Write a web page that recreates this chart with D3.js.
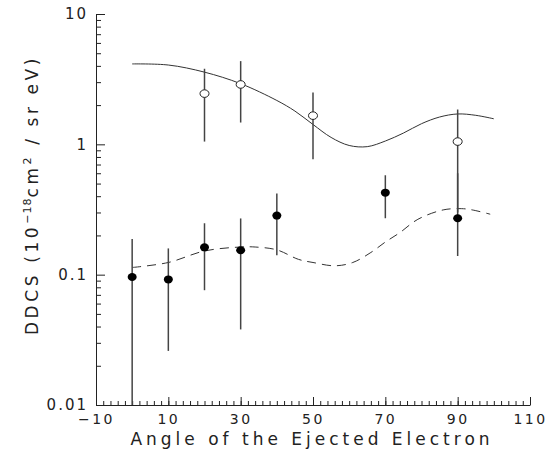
<!DOCTYPE html>
<html>
<head>
<script src="https://d3js.org/d3.v7.min.js"></script>
<style>
  body { margin: 0; background: #fff; }
  text { font-family: "DejaVu Sans", sans-serif; fill: #222; }
</style>
</head>
<body>
<svg id="main_graph" width="551" height="450"></svg>
<script>
// measured points (angle, value, bar low, bar high)
var openAngle = [20, 30, 50, 90];
var openVal   = [2.45, 2.88, 1.66, 1.05];
var openLo    = [1.05, 1.47, 0.77, 0.30];
var openHi    = [3.80, 4.35, 2.50, 1.85];

var fillAngle = [0, 10, 20, 30, 40, 70, 90];
var fillVal   = [0.096, 0.092, 0.162, 0.154, 0.284, 0.426, 0.271];
var fillLo    = [0.005, 0.026, 0.076, 0.038, 0.141, 0.271, 0.139];
var fillHi    = [0.188, 0.159, 0.248, 0.270, 0.420, 0.579, 0.60];

// theory curves
var solidAngle = [0, 10, 20, 30, 40, 45, 50, 55, 60, 65, 70, 75, 80, 85, 90, 95, 100];
var solidVal   = [4.14, 4.06, 3.58, 2.92, 2.17, 1.80, 1.42, 1.13, 0.98, 0.96, 1.06, 1.22, 1.44, 1.62, 1.71, 1.67, 1.57];

var dashAngle = [0, 10, 20, 30, 34, 40, 46, 50, 56, 61, 66, 70, 74, 79, 86, 91, 94, 99];
var dashVal   = [0.1135, 0.124, 0.152, 0.163, 0.163, 0.155, 0.131, 0.124, 0.117, 0.124, 0.148, 0.178, 0.21, 0.266, 0.314, 0.321, 0.314, 0.291];

var xMajor = [-10, 10, 30, 50, 70, 90, 110];
var yMajor = [0.01, 0.1, 1, 10];
var yLabels = ["0.01", "0.1", "1", "10"];

var svg = d3.select("svg");
var x = d3.scaleLinear().domain([-10, 110]).range([96, 530]);
var y = d3.scaleLog().domain([0.01, 10]).range([405, 14]);

// minor ticks
var xMinor = d3.range(-10, 111, 2);
var yMinor = [];
[0.01, 0.1, 1].forEach(function(d) { for (var k = 2; k < 10; k++) yMinor.push(d * k); });

svg.append("g").attr("transform", "translate(0,405)")
  .call(d3.axisBottom(x).tickValues(xMinor).tickSize(-4).tickFormat(""))
  .call(function(g) { g.select(".domain").remove(); });
svg.append("g").attr("transform", "translate(0,405)")
  .call(d3.axisBottom(x).tickValues(xMajor).tickSizeInner(-8).tickSizeOuter(0).tickPadding(9)
    .tickFormat(function(d) { return d < 0 ? "\u2212" + Math.abs(d) : d; }))
  .call(function(g) {
    g.selectAll("text").attr("font-size", 14).attr("letter-spacing", 2.5);
  });

svg.append("g").attr("transform", "translate(96,0)")
  .call(d3.axisLeft(y).tickValues(yMinor).tickSize(-5).tickFormat(""))
  .call(function(g) { g.select(".domain").remove(); });
svg.append("g").attr("transform", "translate(96,0)")
  .call(d3.axisLeft(y).tickValues(yMajor).tickSizeInner(-9).tickSizeOuter(0).tickPadding(8)
    .tickFormat(function(d, i) { return yLabels[i]; }))
  .call(function(g) {
    g.selectAll("text").attr("font-size", 15).attr("letter-spacing", 2);
  });

svg.selectAll(".domain, .tick line").attr("stroke", "#222");

// axis titles
svg.append("text").attr("x", 312).attr("y", 444.5).attr("text-anchor", "middle")
  .attr("font-size", 17).attr("letter-spacing", 4).text("Angle of the Ejected Electron");

var yt = svg.append("text").attr("transform", "translate(38,195) rotate(-90)")
  .attr("text-anchor", "middle").attr("font-size", 17).attr("letter-spacing", 3.6);
yt.append("tspan").text("DDCS (10");
yt.append("tspan").attr("dy", -7).attr("font-size", 11).attr("letter-spacing", 1).text("\u221218");
yt.append("tspan").attr("dy", 7).text("cm");
yt.append("tspan").attr("dy", -7).attr("font-size", 11).text("2");
yt.append("tspan").attr("dy", 7).text(" / sr eV)");

// curves
var line = d3.line().curve(d3.curveCatmullRom.alpha(0.5));
svg.append("path")
  .attr("d", line(solidAngle.map(function(a, i) { return [x(a), y(solidVal[i])]; })))
  .attr("fill", "none").attr("stroke", "#333").attr("stroke-width", 1);
svg.append("path")
  .attr("d", line(dashAngle.map(function(a, i) { return [x(a), y(dashVal[i])]; })))
  .attr("fill", "none").attr("stroke", "#333").attr("stroke-width", 1)
  .attr("stroke-dasharray", "9,6");

// error bars
var yc = function(v) { return Math.min(y(Math.max(v, 0.01)), 405); };
svg.selectAll(".ebo").data(openAngle).enter().append("line")
  .attr("x1", function(d) { return x(d); }).attr("x2", function(d) { return x(d); })
  .attr("y1", function(d, i) { return yc(openLo[i]); })
  .attr("y2", function(d, i) { return yc(openHi[i]); })
  .attr("stroke", "#444").attr("stroke-width", 1.5);
svg.selectAll(".ebf").data(fillAngle).enter().append("line")
  .attr("x1", function(d) { return x(d); }).attr("x2", function(d) { return x(d); })
  .attr("y1", function(d, i) { return yc(fillLo[i]); })
  .attr("y2", function(d, i) { return yc(fillHi[i]); })
  .attr("stroke", "#444").attr("stroke-width", 1.5);

// markers
svg.selectAll(".mo").data(openAngle).enter().append("ellipse")
  .attr("cx", function(d) { return x(d); })
  .attr("cy", function(d, i) { return y(openVal[i]); })
  .attr("rx", 4.5).attr("ry", 3.8)
  .attr("fill", "#fff").attr("stroke", "#222").attr("stroke-width", 1);
svg.selectAll(".mf").data(fillAngle).enter().append("ellipse")
  .attr("cx", function(d) { return x(d); })
  .attr("cy", function(d, i) { return y(fillVal[i]); })
  .attr("rx", 4.5).attr("ry", 4)
  .attr("fill", "#000");
</script>
</body>
</html>
